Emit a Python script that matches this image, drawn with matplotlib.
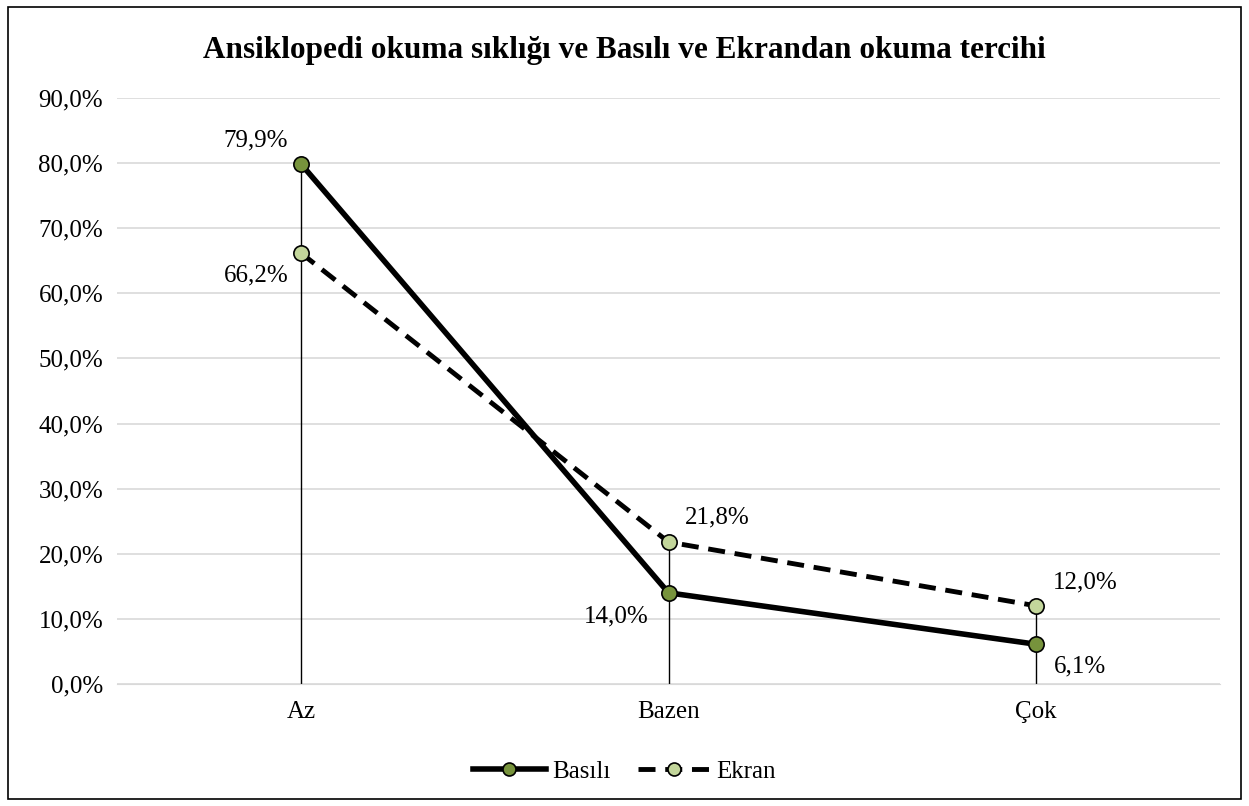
import matplotlib.pyplot as plt
from matplotlib.patches import Rectangle
from matplotlib.ticker import FuncFormatter

categories = ['Az', 'Bazen', 'Çok']
basili = [79.9, 14.0, 6.1]
ekran = [66.2, 21.8, 12.0]
basili_labels = ['79,9%', '14,0%', '6,1%']
ekran_labels = ['66,2%', '21,8%', '12,0%']

plt.rcParams['font.family'] = ['Liberation Serif', 'DejaVu Serif']

fig = plt.figure(figsize=(12.49, 8.06), dpi=100)
ax = fig.add_axes([0.0937, 0.1514, 0.8831, 0.727])

x = list(range(len(categories)))

# drop lines from the higher point down to zero
for i in x:
    ax.plot([i, i], [0, max(basili[i], ekran[i])], color='black', lw=1, zorder=2)

ax.plot(x, basili, color='black', lw=4, marker='o', markersize=11,
        markerfacecolor='#77933C', markeredgecolor='black', markeredgewidth=1.2,
        label='Basılı', zorder=4)
ax.plot(x, ekran, color='black', lw=3.5, linestyle=(0, (3.5, 2)), marker='o', markersize=11,
        markerfacecolor='#C3D69B', markeredgecolor='black', markeredgewidth=1.2,
        label='Ekran', zorder=3)

# data labels
offs_b = [(-9, 17, 'right', 'center'), (-14, -17, 'right', 'center'), (13, -16, 'left', 'center')]
offs_e = [(-9, -16, 'right', 'center'), (12, 18, 'left', 'center'), (12, 17, 'left', 'center')]
for i in x:
    dx, dy, ha, va = offs_b[i]
    ax.annotate(basili_labels[i], (i, basili[i]), xytext=(dx, dy), textcoords='offset points',
                ha=ha, va=va, fontsize=18)
    dx, dy, ha, va = offs_e[i]
    ax.annotate(ekran_labels[i], (i, ekran[i]), xytext=(dx, dy), textcoords='offset points',
                ha=ha, va=va, fontsize=18)

ax.set_xlim(-0.5, 2.5)
ax.set_ylim(0, 90)
ax.set_yticks(range(0, 91, 10))
ax.yaxis.set_major_formatter(FuncFormatter(lambda v, p: f'{v:.1f}%'.replace('.', ',')))
ax.set_xticks(x)
ax.set_xticklabels(categories)
ax.tick_params(axis='both', length=0, labelsize=18)
ax.tick_params(axis='x', pad=12)
ax.tick_params(axis='y', pad=10)
ax.grid(axis='y', color='#D9D9D9', lw=1.2)
ax.set_axisbelow(True)
for s in ['top', 'right', 'left']:
    ax.spines[s].set_visible(False)
ax.spines['bottom'].set_color('#D9D9D9')

fig.suptitle('Ansiklopedi okuma sıklığı ve Basılı ve Ekrandan okuma tercihi',
             fontsize=22.5, fontweight='bold', y=0.955)

fig.legend(loc='center', bbox_to_anchor=(0.5, 0.043), ncol=2, frameon=False,
           fontsize=18, handlelength=2.9, columnspacing=1.1, handletextpad=0.25,
           markerscale=0.85)

fig.patches.append(Rectangle((0.0064, 0.009), 0.9872, 0.982, transform=fig.transFigure,
                             fill=False, edgecolor='black', lw=1.2))

fig.savefig('out.png', dpi=100)
